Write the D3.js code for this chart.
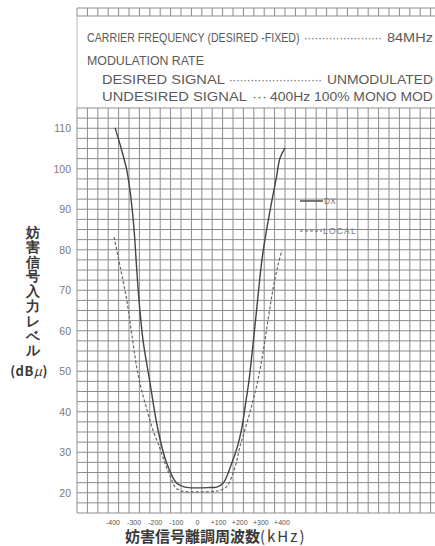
<!DOCTYPE html>
<html>
<head>
<meta charset="utf-8">
<script src="https://cdn.jsdelivr.net/npm/d3@7"></script>
<style>
  html, body { margin: 0; padding: 0; background: #fff; }
  svg { display: block; }
  text { font-family: "Liberation Sans", Arial, sans-serif; }
  .jp { font-family: "Noto Sans CJK JP", sans-serif; }
</style>
</head>
<body>
<script>
// interference level vs. detuning (kHz)
const dxFreq = [-390, -359, -335, -320, -309, -299, -289, -277, -258, -227, -187, -146, -99, -59, -2, 59, 91, 122, 162, 189, 208, 230, 244, 275, 305, 327, 350, 374, 391, 414];
const dxLevel = [110.1, 104.6, 99.7, 94.8, 89.9, 84.1, 76.2, 67.6, 57.7, 47.8, 35.5, 27.3, 22.4, 21.4, 21.2, 21.3, 21.4, 22.4, 27.3, 31.4, 35.5, 42.9, 47.8, 62.7, 77.5, 84.9, 91.5, 98.0, 102.7, 105.1];

const localFreq = [-395, -365, -335, -312, -288, -268, -239, -211, -178, -154, -128, -102, -73, 0, 70, 107, 138, 178, 201, 233, 264, 286, 312, 334, 357, 381, 400];
const localLevel = [83.1, 75.5, 67.6, 59.4, 51.1, 46.1, 40.4, 35.5, 31.0, 27.3, 23.9, 21.2, 20.4, 20.2, 20.3, 20.6, 21.5, 26.4, 31.4, 37.1, 42.9, 47.8, 55.2, 62.7, 70.1, 76.2, 79.9];

const yTicks = [20, 30, 40, 50, 60, 70, 80, 90, 100, 110];
const xTicks = [-400, -300, -200, -100, 0, 100, 200, 300, 400];
const xTickLabels = ["-400", "-300", "-200", "-100", "0", "+100", "+200", "+300", "+400"];

const yTitleChars = ["妨", "害", "信", "号", "入", "力", "レ", "ベ", "ル"];

const W = 435, H = 546;

const svg = d3.select("body").append("svg")
    .attr("width", W)
    .attr("height", H);

// scales
const x = d3.scaleLinear().domain([-400, 400]).range([113, 282]);
const y = d3.scaleLinear().domain([15, 115]).range([513, 108]);
// graph paper columns (paper is not aligned with the kHz labels)
const gx = d3.scaleLinear().domain([0, 34]).range([77, 430.6]);

const gridColor = "#8c8c8c";

// main grid
const grid = svg.append("g").attr("stroke", gridColor).attr("stroke-width", 1);
grid.selectAll("line.v")
    .data(d3.range(0, 35))
    .join("line")
    .attr("class", "v")
    .attr("x1", d => gx(d)).attr("x2", d => gx(d))
    .attr("y1", y(115)).attr("y2", y(15));
grid.selectAll("line.h")
    .data(d3.range(15, 115.01, 2.5))
    .join("line")
    .attr("class", "h")
    .attr("x1", gx(0)).attr("x2", W)
    .attr("y1", d => y(d)).attr("y2", d => y(d));

// top strip of graph paper above the text box
const strip = svg.append("g").attr("stroke", gridColor).attr("stroke-width", 1);
strip.selectAll("line.v")
    .data(d3.range(0, 35))
    .join("line")
    .attr("class", "v")
    .attr("x1", d => gx(d)).attr("x2", d => gx(d))
    .attr("y1", 8).attr("y2", 16);
strip.selectAll("line.h")
    .data([8, 16])
    .join("line")
    .attr("class", "h")
    .attr("x1", gx(0)).attr("x2", W)
    .attr("y1", d => d).attr("y2", d => d);
// faint left edge of text box
svg.append("line")
    .attr("x1", gx(0)).attr("x2", gx(0))
    .attr("y1", 16).attr("y2", 108)
    .attr("stroke", "#bbb").attr("stroke-width", 1);

// text box contents, each piece squeezed to the width it has in the print
const boxText = svg.append("g").attr("fill", "#5a5a5a").attr("font-size", 12);
function boxItem(str, px, py, len) {
    const t = boxText.append("text")
        .attr("transform", `translate(${px},${py})`)
        .text(str);
    const natural = t.node().getComputedTextLength();
    t.attr("transform", `translate(${px},${py}) scale(${len / natural},1)`);
    return t;
}
boxItem("CARRIER FREQUENCY (DESIRED -FIXED)", 87, 41.5, 213);
boxItem("·".repeat(22), 304, 41.5, 78);
boxItem("84MHz", 387, 41.5, 46);
boxItem("MODULATION RATE", 87, 64.5, 117);
boxItem("DESIRED SIGNAL", 102, 83.5, 123);
boxItem("·".repeat(26), 229, 83.5, 93);
boxItem("UNMODULATED", 327, 83.5, 106);
boxItem("UNDESIRED SIGNAL", 102, 100.5, 145);
boxItem("···", 252, 100.5, 15);
boxItem("400Hz 100% MONO MOD", 270, 100.5, 163);

// y tick labels
svg.append("g")
    .attr("fill", "#7a7a7a")
    .attr("font-size", 10.5)
    .attr("text-anchor", "end")
    .selectAll("text")
    .data(yTicks)
    .join("text")
    .attr("x", 71)
    .attr("y", d => y(d))
    .attr("dy", "0.36em")
    .text(d => d);

// x tick labels
svg.append("g")
    .attr("fill", "#555")
    .attr("font-size", 7)
    .attr("text-anchor", "middle")
    .selectAll("text")
    .data(xTicks)
    .join("text")
    .attr("x", d => x(d))
    .attr("y", 525)
    .text((d, i) => xTickLabels[i]);

// axis titles
svg.append("g")
    .attr("class", "jp")
    .attr("fill", "#3a3a3a")
    .attr("font-size", 14)
    .attr("font-weight", "bold")
    .attr("text-anchor", "middle")
    .selectAll("text")
    .data(yTitleChars)
    .join("text")
    .attr("x", 33)
    .attr("y", (d, i) => 232 + i * 14.8)
    .attr("dy", "0.36em")
    .text(d => d);

const unitY = svg.append("text")
    .attr("class", "jp")
    .attr("x", 29).attr("y", 371).attr("dy", "0.36em")
    .attr("text-anchor", "middle")
    .attr("fill", "#3a3a3a")
    .attr("font-size", 13)
    .attr("font-weight", "bold")
    .attr("letter-spacing", 0.5);
unitY.append("tspan").text("(dB");
unitY.append("tspan").attr("font-style", "italic").attr("font-weight", "normal").text("μ");
unitY.append("tspan").text(")");

const xTitle = svg.append("text")
    .attr("class", "jp")
    .attr("x", 125).attr("y", 537).attr("dy", "0.36em")
    .attr("fill", "#3a3a3a")
    .attr("font-size", 15)
    .attr("font-weight", "bold");
xTitle.append("tspan").text("妨害信号離調周波数");
xTitle.append("tspan").attr("letter-spacing", 2).attr("font-weight", "normal").text("(kHz)");

// curves
const line = d3.line()
    .x(d => x(d[0]))
    .y(d => y(d[1]))
    .curve(d3.curveCatmullRom.alpha(0.5));

const dxData = d3.zip(dxFreq, dxLevel);
const localData = d3.zip(localFreq, localLevel);

svg.append("path")
    .datum(localData)
    .attr("d", line)
    .attr("fill", "none")
    .attr("stroke", "#666")
    .attr("stroke-width", 1.2)
    .attr("stroke-dasharray", "3,2");

svg.append("path")
    .datum(dxData)
    .attr("d", line)
    .attr("fill", "none")
    .attr("stroke", "#444")
    .attr("stroke-width", 1.4);

// legend
const legend = svg.append("g").attr("fill", "#777").attr("font-size", 8.5);
legend.append("line")
    .attr("x1", 300).attr("x2", 323).attr("y1", 201).attr("y2", 201)
    .attr("stroke", "#555").attr("stroke-width", 1.6);
legend.append("text").attr("x", 324).attr("y", 201).attr("dy", "0.36em").text("DX");
legend.append("line")
    .attr("x1", 300).attr("x2", 322).attr("y1", 231).attr("y2", 231)
    .attr("stroke", "#666").attr("stroke-width", 1.2).attr("stroke-dasharray", "3,2");
legend.append("text").attr("x", 323).attr("y", 231).attr("dy", "0.36em")
    .attr("letter-spacing", 1.2).text("LOCAL");
</script>
</body>
</html>
